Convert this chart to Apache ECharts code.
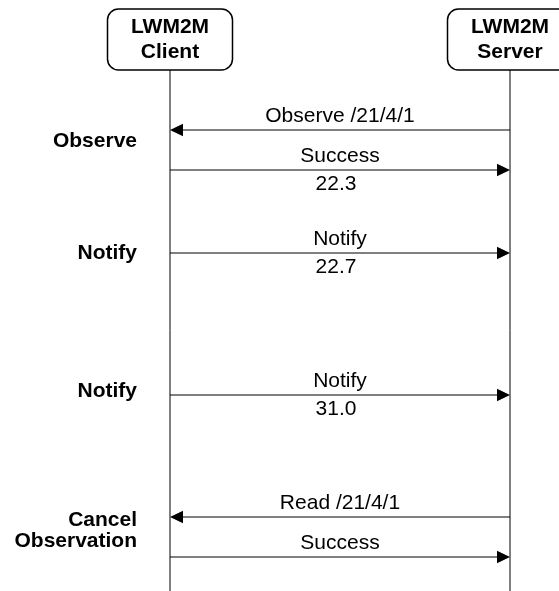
<!DOCTYPE html>
<html>
<head>
<meta charset="utf-8">
<style>
  html, body { margin: 0; padding: 0; background: #ffffff; }
  #chart { width: 559px; height: 591px; }
</style>
<script src="https://cdn.jsdelivr.net/npm/echarts@6/dist/echarts.min.js"></script>
</head>
<body>
<div id="chart"></div>
<script>
// ---- Data ----
const participants = ['LWM2M\nClient', 'LWM2M\nServer'];
const msgFrom   = [1, 0, 0, 0, 1, 0];            // index into participants
const msgTo     = [0, 1, 1, 1, 0, 1];
const msgTimes  = [130, 170, 253, 395, 517, 557]; // sequence time (top = 0)
const msgLabels = ['Observe /21/4/1', 'Success', 'Notify', 'Notify', 'Read /21/4/1', 'Success'];
const msgValues = [null, 22.3, 22.7, 31.0, null, null];
const phaseLabels = ['Observe', 'Notify', 'Notify', 'Cancel\nObservation'];
const phaseTimes  = [141, 253, 391, 531];

const FONT = '"Liberation Sans", Arial, Helvetica, sans-serif';
const chart = echarts.init(document.getElementById('chart'), null, { renderer: 'canvas' });

const option = {
  backgroundColor: '#ffffff',
  animation: false,
  grid: { left: 170, right: 49, top: 0, bottom: 0 },
  xAxis: {
    type: 'category', data: participants, boundaryGap: false,
    show: false
  },
  yAxis: {
    type: 'value', inverse: true, min: 0, max: 591, show: false
  },
  series: [
    {
      // lifelines + participant boxes
      type: 'custom',
      clip: false,
      data: participants.map((p, i) => [i, 0]),
      encode: { x: 0, y: 1 },
      renderItem: function (params, api) {
        const x = api.coord([api.value(0), 0])[0];
        const top = api.coord([0, 9])[1];
        const boxBottom = api.coord([0, 70])[1];
        const end = api.coord([0, 591])[1];
        const idx = params.dataIndex;
        return {
          type: 'group',
          children: [
            { type: 'line', shape: { x1: x, y1: boxBottom, x2: x, y2: end },
              style: { stroke: '#000', lineWidth: 1 } },
            { type: 'rect', shape: { x: x - 62.5, y: top, width: 125, height: boxBottom - top, r: 11 },
              style: { fill: '#fff', stroke: '#000', lineWidth: 1.5 } },
            { type: 'text', style: {
                text: participants[idx], x: x, y: (top + boxBottom) / 2 + 0.5,
                align: 'center', verticalAlign: 'middle', lineHeight: 25,
                fill: '#000', font: 'bold 21px ' + FONT } }
          ]
        };
      }
    },
    {
      // messages
      type: 'custom',
      clip: false,
      data: msgTimes.map((t, i) => [msgFrom[i], msgTo[i], t]),
      encode: { x: [0, 1], y: 2 },
      renderItem: function (params, api) {
        const i = params.dataIndex;
        const p1 = api.coord([api.value(0), api.value(2)]);
        const p2 = api.coord([api.value(1), api.value(2)]);
        const y = p1[1];
        const dir = p2[0] > p1[0] ? 1 : -1;
        const headLen = 13, headHalf = 6.3;
        const cx = (p1[0] + p2[0]) / 2;
        const children = [
          { type: 'line', shape: { x1: p1[0], y1: y, x2: p2[0] - dir * headLen, y2: y },
            style: { stroke: '#000', lineWidth: 1 } },
          { type: 'polygon', shape: { points: [
              [p2[0], y], [p2[0] - dir * headLen, y - headHalf], [p2[0] - dir * headLen, y + headHalf]] },
            style: { fill: '#000' } },
          { type: 'text', style: {
              text: msgLabels[i], x: cx, y: y - 14,
              align: 'center', verticalAlign: 'middle',
              fill: '#000', font: '21px ' + FONT } }
        ];
        if (msgValues[i] !== null) {
          children.push({ type: 'text', style: {
            text: msgValues[i].toFixed(1), x: cx - 4, y: y + 14.5,
            align: 'center', verticalAlign: 'middle',
            fill: '#000', font: '21px ' + FONT } });
        }
        return { type: 'group', children: children };
      }
    },
    {
      // phase labels on the left
      type: 'custom',
      clip: false,
      data: phaseTimes.map((t) => [0, t]),
      encode: { x: 0, y: 1 },
      renderItem: function (params, api) {
        const p = api.coord([api.value(0), api.value(1)]);
        return { type: 'text', style: {
          text: phaseLabels[params.dataIndex], x: p[0] - 33, y: p[1],
          align: 'right', verticalAlign: 'middle', lineHeight: 21,
          fill: '#000', font: 'bold 21px ' + FONT } };
      }
    }
  ]
};
chart.setOption(option);
</script>
</body>
</html>
